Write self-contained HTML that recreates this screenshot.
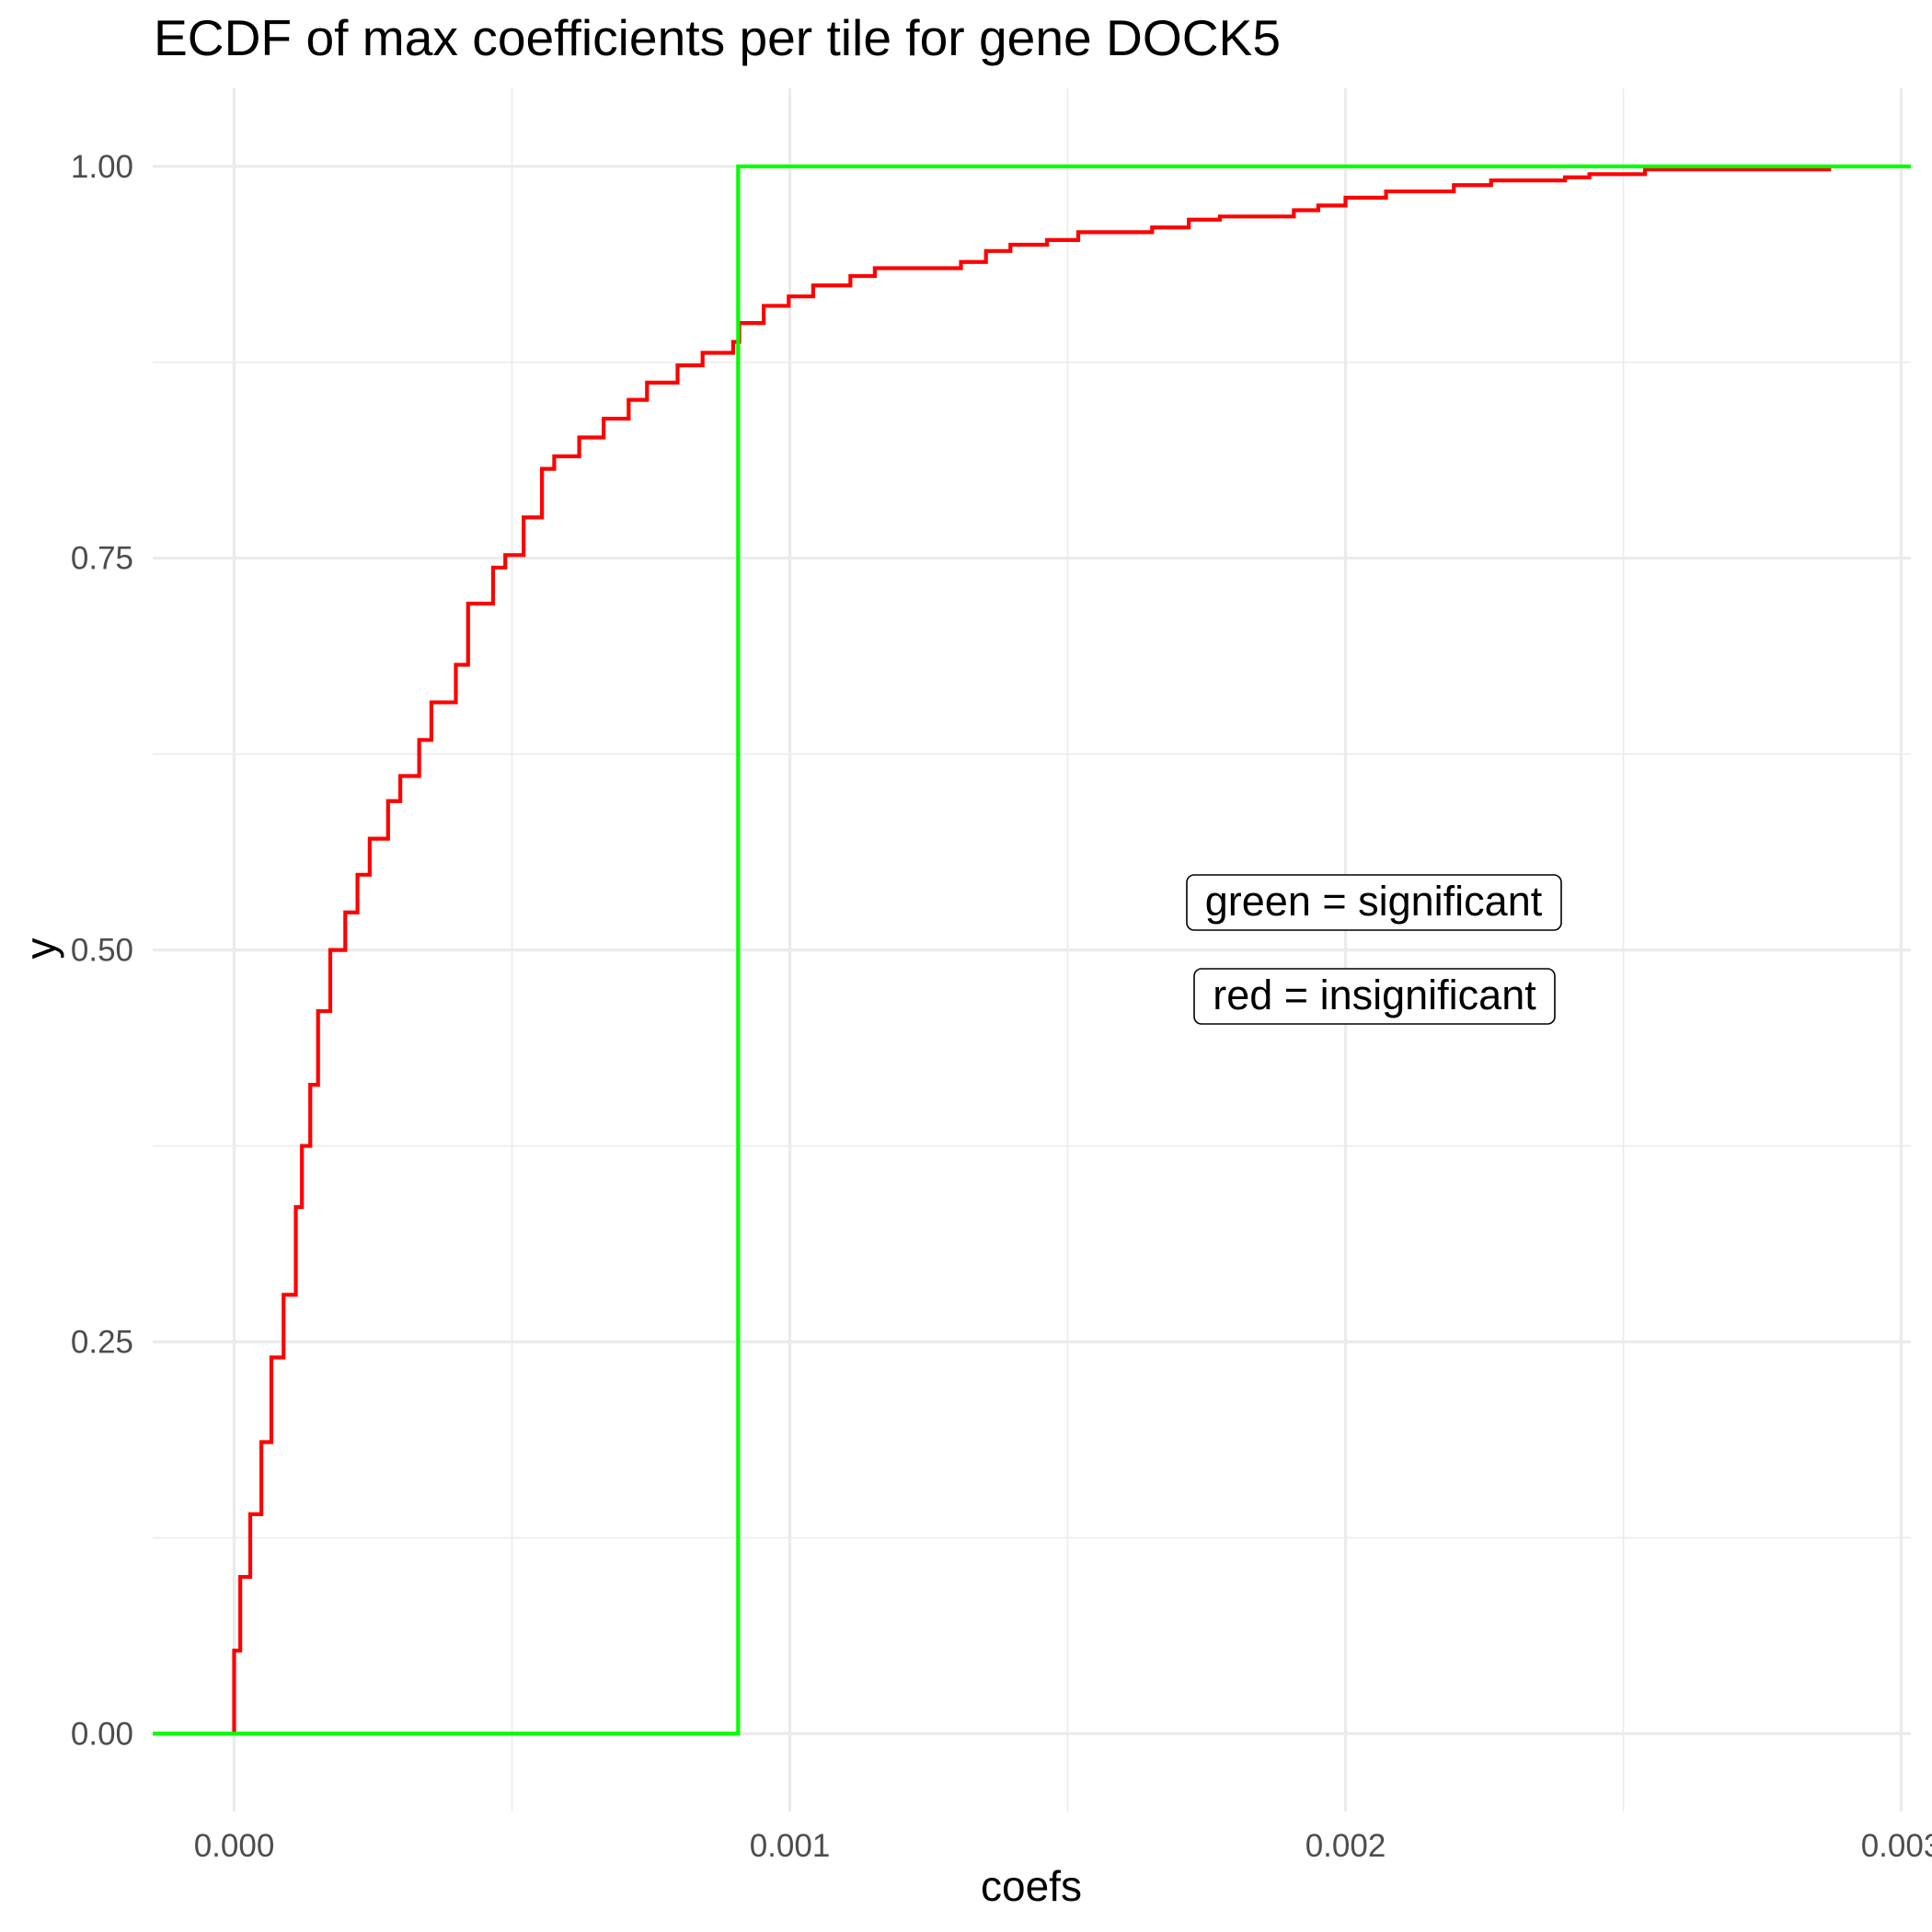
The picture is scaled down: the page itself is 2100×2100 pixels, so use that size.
<!DOCTYPE html>
<html><head><meta charset="utf-8"><style>
html,body{margin:0;padding:0;background:#fff;}
svg{display:block;font-family:"Liberation Sans",Arial,sans-serif;}
</style></head><body>
<svg id="chart" width="2100" height="2100" viewBox="0 0 2100 2100">
<rect x="0" y="0" width="2100" height="2100" fill="#fff"/>
<g id="grid"></g>
<g id="series"></g>
<g id="axes"></g>
<text x="167" y="60" font-size="55" fill="#000" textLength="1225" lengthAdjust="spacingAndGlyphs">ECDF of max coefficients per tile for gene DOCK5</text>
<text x="1121" y="2066" font-size="46" text-anchor="middle" fill="#000">coefs</text>
<text x="0" y="0" font-size="46" text-anchor="middle" fill="#000" transform="translate(60,1031) rotate(-90)">y</text>
<g>
<rect x="1290" y="951" width="407" height="60" rx="8" fill="#fff" stroke="#000" stroke-width="1.6"/>
<text x="1493" y="995" font-size="45" text-anchor="middle" fill="#000">green = significant</text>
</g>
<g>
<rect x="1298" y="1053" width="392" height="60" rx="8" fill="#fff" stroke="#000" stroke-width="1.6"/>
<text x="1494" y="1097" font-size="45" text-anchor="middle" fill="#000">red = insignificant</text>
</g>
</svg>
<script>
// data (coef values in units of 1e-3)
const redX = [0,0,0.011,0.029,0.049,0.067,0.089,0.111,0.122,0.137,0.151,0.173,0.2,0.222,0.244,0.277,0.299,0.333,0.355,0.399,0.421,0.466,0.488,0.521,0.554,0.576,0.621,0.665,0.710,0.743,0.798,0.843,0.898,0.909,0.953,0.998,1.042,1.109,1.153,1.308,1.353,1.397,1.463,1.519,1.652,1.718,1.774,1.907,1.951,2.0,2.073,2.195,2.262,2.395,2.439,2.539,2.874];
const redY = [0,0.053,0.10,0.14,0.186,0.24,0.28,0.336,0.375,0.414,0.461,0.50,0.524,0.548,0.571,0.595,0.611,0.634,0.658,0.682,0.721,0.744,0.752,0.776,0.807,0.815,0.827,0.839,0.851,0.862,0.873,0.881,0.888,0.900,0.911,0.917,0.924,0.930,0.935,0.939,0.946,0.950,0.953,0.958,0.961,0.966,0.968,0.972,0.975,0.980,0.984,0.988,0.991,0.993,0.995,0.998,0.998];
const greenX = [0.907];
const greenY = [1];
const xTicks = [0,1,2,3];
const xTickLabels = ["0.000","0.001","0.002","0.003"];
const yTicks = [0,0.25,0.5,0.75,1];
const yTickLabels = ["0.00","0.25","0.50","0.75","1.00"];

const NS="http://www.w3.org/2000/svg";
const PL=166, PR=2077, PT=96, PB=1969;
const sx = v => 254.5 + v*604;
const sy = v => 1884.4 - v*1703.6;
function mk(tag, attrs, parent){const e=document.createElementNS(NS,tag);for(const k in attrs)e.setAttribute(k,attrs[k]);parent.appendChild(e);return e;}
const grid=document.getElementById('grid'), series=document.getElementById('series'), axes=document.getElementById('axes');
for(let i=0;i<xTicks.length-1;i++){
  const l=mk('line',{x1:sx((xTicks[i]+xTicks[i+1])/2),x2:sx((xTicks[i]+xTicks[i+1])/2),y1:PT,y2:PB,stroke:'#ebebeb','stroke-width':1.6},grid);
  
  
}
for(let i=0;i<yTicks.length-1;i++){
  const l=mk('line',{x1:PL,x2:PR,y1:sy((yTicks[i]+yTicks[i+1])/2),y2:sy((yTicks[i]+yTicks[i+1])/2),stroke:'#ebebeb','stroke-width':1.6},grid);
  
  
}
xTicks.forEach((t,i)=>{
  const l=mk('line',{x1:sx(t),x2:sx(t),y1:PT,y2:PB,stroke:'#ebebeb','stroke-width':3.2},grid);
  
  
  const tx=mk('text',{x:sx(t),y:2018,'font-size':35,'text-anchor':'middle',fill:'#4d4d4d'},axes);
  tx.textContent=xTickLabels[i];
  
  
});
yTicks.forEach((t,i)=>{
  const l=mk('line',{x1:PL,x2:PR,y1:sy(t),y2:sy(t),stroke:'#ebebeb','stroke-width':3.2},grid);
  
  
  const tx=mk('text',{x:145,y:sy(t)+12,'font-size':35,'text-anchor':'end',fill:'#4d4d4d'},axes);
  tx.textContent=yTickLabels[i];
  
  
});
let d='M'+sx(redX[0])+','+sy(redY[0]);
for(let i=1;i<redX.length;i++){d+=' H'+sx(redX[i])+' V'+sy(redY[i]);}
const red=mk('path',{d:d,fill:'none',stroke:'#ff0000','stroke-width':4.2},series);


let g='M'+PL+','+sy(0)+' H'+sx(greenX[0])+' V'+sy(greenY[0])+' H'+PR;
const gr=mk('path',{d:g,fill:'none',stroke:'#00ff00','stroke-width':4.2},series);


</script>
</body></html>
